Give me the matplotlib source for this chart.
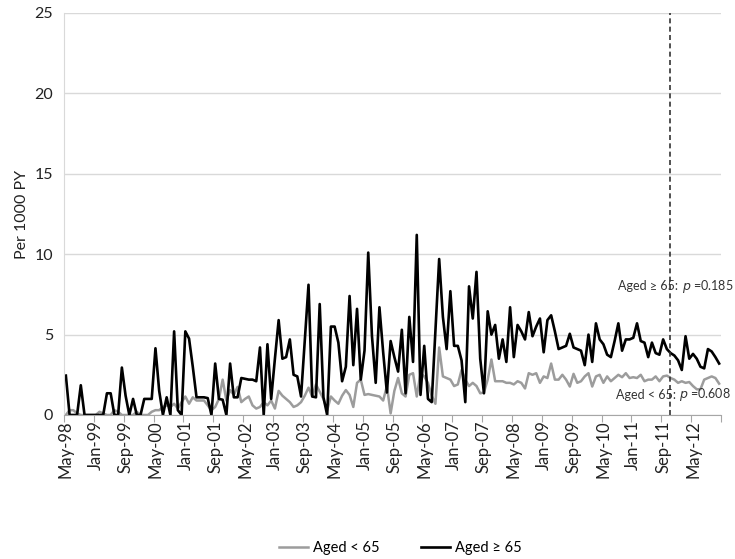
import matplotlib
matplotlib.use("Agg")
import matplotlib.pyplot as plt
from matplotlib.ticker import FixedLocator, NullFormatter
import numpy as np

plt.rcParams['font.family'] = ['Lato', 'DejaVu Sans']

month_names = ["Jan", "Feb", "Mar", "Apr", "May", "Jun",
               "Jul", "Aug", "Sep", "Oct", "Nov", "Dec"]
# monthly categories May-98 .. Dec-12
categories = []
for k in range(176):
    m = (4 + k) % 12
    y = 1998 + (4 + k) // 12
    categories.append(f"{month_names[m]}-{y % 100:02d}")

aged_65_plus = [
    2.45, 0, 0, 0, 1.85, 0, 0, 0, 0, 0,
    0, 1.35, 1.35, 0, 0, 2.95, 1.2, 0, 1.0, 0,
    0, 1.0, 1.0, 1.0, 4.15, 1.5, 0, 1.1, 0, 5.2,
    0.3, 0, 5.2, 4.75, 3.0, 1.1, 1.1, 1.1, 1.05, 0,
    3.2, 1.0, 0.95, 0, 3.2, 1.1, 1.1, 2.3, 2.25, 2.2,
    2.2, 2.1, 4.2, 0, 4.4, 1.0, 3.5, 5.9, 3.5, 3.6,
    4.7, 2.5, 2.4, 1.15, 4.6, 8.1, 1.15, 1.1, 6.9, 1.1,
    0, 5.5, 5.5, 4.5, 2.1, 3.0, 7.4, 3.1, 6.6, 2.2,
    4.0, 10.1, 4.9, 2.0, 6.7, 3.9, 1.4, 4.6, 3.6, 2.7,
    5.3, 1.35, 6.1, 3.3, 11.2, 1.25, 4.3, 1.0, 0.8, 5.2,
    9.7, 6.1, 4.1, 7.7, 4.3, 4.3, 3.4, 0.8, 8.0, 6.0,
    8.9, 3.5, 1.35, 6.45, 5.0, 5.6, 3.5, 4.7, 3.3, 6.7,
    3.6, 5.6, 5.2, 4.7, 6.4, 4.9, 5.5, 6.0, 3.9, 5.9,
    6.2, 5.2, 4.1, 4.2, 4.3, 5.05, 4.2, 4.1, 4.0, 3.1,
    5.0, 3.3, 5.7, 4.7, 4.4, 3.75, 3.6, 4.6, 5.7, 4.0,
    4.7, 4.7, 4.8, 5.7, 4.6, 4.5, 3.6, 4.5, 3.85, 3.75,
    4.7, 4.1, 3.85, 3.7, 3.4, 2.8, 4.9, 3.5, 3.8, 3.5,
    3.0, 2.9, 4.1, 3.95, 3.6, 3.2,
]

aged_under_65 = [
    0.0, 0.3, 0.3, 0.1, 0.0, 0, 0, 0, 0.0, 0.2,
    0.1, 0, 0, 0.3, 0.2, 0, 0, 0, 0, 0.2,
    0, 0, 0, 0.2, 0.3, 0.3, 0.5, 0.6, 0.5, 0.7,
    0.4, 0.8, 1.15, 0.7, 1.1, 0.9, 0.9, 0.9, 0.6, 0.3,
    0.5, 1.0, 2.2, 0.9, 1.55, 1.25, 1.75, 0.8, 1.0, 1.15,
    0.6, 0.4, 0.5, 0.8, 0.6, 0.9, 0.4, 1.5, 1.2, 1.0,
    0.8, 0.5, 0.6, 0.8, 1.2, 1.7, 1.15, 1.9, 1.45, 1.0,
    0.3, 1.15, 0.9, 0.7, 1.2, 1.55, 1.25, 0.5, 2.0, 2.2,
    1.25, 1.3, 1.25, 1.2, 1.15, 0.9, 1.8, 0.1, 1.5, 2.3,
    1.35, 1.15, 2.5, 2.6, 1.15, 2.6, 2.4, 2.0, 1.2, 0.7,
    4.2, 2.4, 2.3, 2.2, 1.8, 1.9, 2.8, 2.2, 1.8, 2.0,
    1.8, 1.35, 1.4, 2.2, 3.45, 2.1, 2.1, 2.1, 2.0, 2.0,
    1.9, 2.1, 2.0, 1.65, 2.6, 2.5, 2.6, 2.0, 2.4, 2.3,
    3.2, 2.2, 2.2, 2.5, 2.2, 1.77, 2.56, 2.0, 2.1, 2.4,
    2.6, 1.77, 2.4, 2.5, 2.0, 2.4, 2.1, 2.3, 2.5, 2.35,
    2.6, 2.3, 2.35, 2.3, 2.5, 2.1, 2.2, 2.2, 2.4, 2.1,
    2.4, 2.45, 2.3, 2.2, 2.0, 2.1, 2.0, 2.05, 1.8, 1.6,
    1.6, 2.2, 2.3, 2.4, 2.3, 1.95,
]

y_ticks = [0, 5, 10, 15, 20, 25]
label_step = 8
cutoff_position = 161.8
p_labels = ["Aged \u2265 65: ", "Aged < 65: "]
p_values = ["0.185", "0.608"]

x = np.arange(len(categories))

fig = plt.figure(figsize=(7.35, 5.59), dpi=100)
ax = fig.add_axes([64 / 735, 1 - 415 / 559, 657 / 735, 402 / 559])

grid_c = "#d9d9d9"
ax.set_ylim(0, 25)
ax.set_xlim(-0.5, len(categories) - 0.5)
ax.set_yticks(y_ticks)
ax.yaxis.grid(True, color=grid_c, linewidth=1.0)
ax.set_axisbelow(True)
for s in ["top", "right"]:
    ax.spines[s].set_visible(False)
ax.spines["left"].set_color(grid_c)
ax.spines["bottom"].set_color("#a6a6a6")
ax.tick_params(axis="y", length=0, labelsize=11.5, pad=8, labelcolor="#222222")

ln1, = ax.plot(x, aged_under_65, color="#9c9c9c", linewidth=1.8, label="Aged < 65")
ln2, = ax.plot(x, aged_65_plus, color="#000000", linewidth=1.9, label="Aged \u2265 65")

# category-axis ticks between slots every 8 months
major = np.arange(0, len(categories) + 1, label_step) - 0.5
ax.xaxis.set_major_locator(FixedLocator(major))
ax.xaxis.set_major_formatter(NullFormatter())
ax.tick_params(axis="x", which="major", length=5, color="#a6a6a6")
lab_pos = np.arange(0, len(categories), label_step)
ax.xaxis.set_minor_locator(FixedLocator(lab_pos))
ax.set_xticks(lab_pos, [categories[i] for i in lab_pos], minor=True)
ax.tick_params(axis="x", which="minor", length=0, labelsize=12, rotation=90,
               pad=4, labelcolor="#222222")

ax.set_ylabel("Per 1000 PY", fontsize=11.5, labelpad=4, color="#222222")

ax.axvline(cutoff_position, color="#333333", linestyle=(0, (3, 2)), linewidth=1.2)

for lab, pv, xx, yy in [(p_labels[0], p_values[0], 148.0, 8.0),
                        (p_labels[1], p_values[1], 147.4, 1.25)]:
    t = ax.text(xx, yy, lab, fontsize=9, va="center", ha="left",
                color="#333333", clip_on=False)
    ax.annotate("$\\it{p}$ =" + pv, xy=(1, 0.5), xycoords=t,
                fontsize=9, va="center", ha="left", color="#333333",
                annotation_clip=False)

fig.legend(handles=[ln1, ln2], loc="center", bbox_to_anchor=(0.545, 0.02),
           ncol=2, frameon=False, fontsize=10.5, handlelength=2.0,
           columnspacing=2.8, handletextpad=0.35)

fig.savefig("out.png", dpi=100)
